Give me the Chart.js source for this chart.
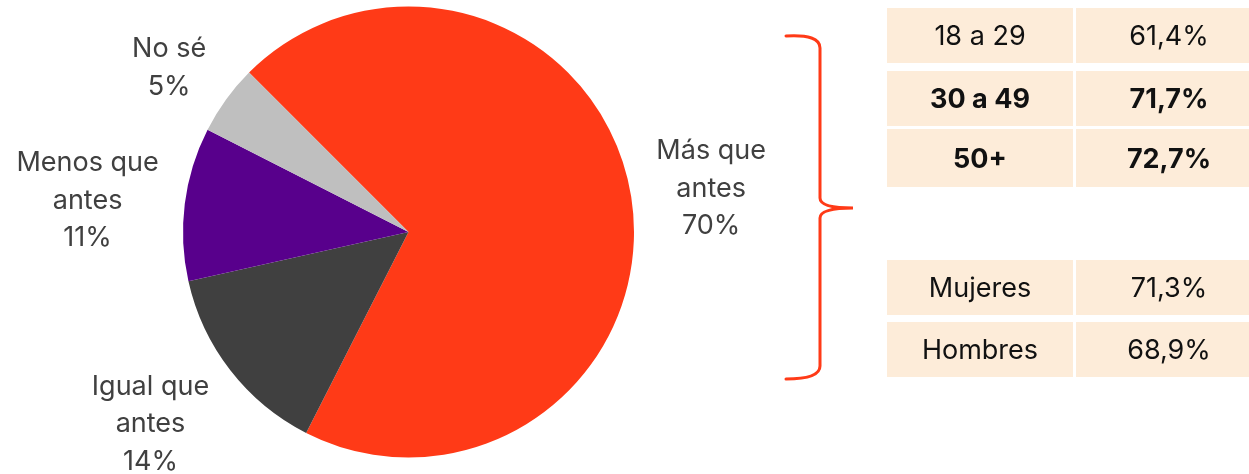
<!DOCTYPE html>
<html>
<head>
<meta charset="utf-8">
<script src="https://cdn.jsdelivr.net/npm/chart.js@4"></script>
<style>
  body { margin: 0; background: #fff; font-family: Inter, "Noto Sans", sans-serif; }
  #wrap { position: relative; width: 1249px; height: 474px; overflow: hidden; }
  #pieBox { position: absolute; left: 0; top: 0; width: 780px; height: 474px; }
  #brace { position: absolute; left: 0; top: 0; }
  .tbl { position: absolute; left: 884px; width: 381px; table-layout: fixed;
         border-collapse: separate; border-spacing: 3px; }
  .tbl td { background: #fdecd9; width: 186px; height: 55px; padding: 0; text-align: center;
            font-size: 27px; color: #111; }
  #ageTable { top: 5px; }
  #ageTable tr:first-child td { border-bottom: 5px solid #fff; }
  #ageTable tr:nth-child(n+2) td { font-weight: 700; }
  #ageTable tr:nth-child(3) td { height: 58px; }
  #genderTable { top: 257px; }
  #genderTable tr:first-child td { border-bottom: 4px solid #fff; }
</style>
</head>
<body>
<div id="wrap">
  <div id="pieBox"><canvas id="myChart"></canvas></div>
  <svg id="brace" width="1249" height="474">
    <path d="M786,36 Q820,34 820,48 L820,198 Q820,208 853,208 Q820,208 820,218 L820,366 Q820,379 786,379"
          fill="none" stroke="#ff3a17" stroke-width="3" stroke-linecap="round"/>
  </svg>
  <table class="tbl" id="ageTable"></table>
  <table class="tbl" id="genderTable"></table>
</div>
<script>
const labels = ['Más que antes', 'Igual que antes', 'Menos que antes', 'No sé'];
const values = [70, 14, 11, 5];
const colors = ['#ff3a17', '#404040', '#58008c', '#bfbfbf'];

const ageGroups = ['18 a 29', '30 a 49', '50+'];
const ageValues = ['61,4%', '71,7%', '72,7%'];
const genderGroups = ['Mujeres', 'Hombres'];
const genderValues = ['71,3%', '68,9%'];

const fillTable = (id, names, vals) => {
    const table = document.getElementById(id);
    names.forEach((name, i) => {
        const row = table.insertRow();
        row.insertCell().textContent = name;
        row.insertCell().textContent = vals[i];
    });
};
fillTable('ageTable', ageGroups, ageValues);
fillTable('genderTable', genderGroups, genderValues);

// labels outside the slices, along each slice's middle angle
const outsideLabels = {
    id: 'outsideLabels',
    afterDatasetsDraw(chart, args, opts) {
        const ctx = chart.ctx;
        const meta = chart.getDatasetMeta(0);
        ctx.save();
        ctx.font = opts.font;
        ctx.fillStyle = opts.color;
        ctx.textAlign = 'center';
        ctx.textBaseline = 'middle';
        meta.data.forEach((arc, i) => {
            const mid = (arc.startAngle + arc.endAngle) / 2;
            const d = arc.outerRadius * opts.distance[i];
            const x = arc.x + Math.cos(mid) * d + opts.nudge[i][0];
            const y = arc.y + Math.sin(mid) * d + opts.nudge[i][1];
            const words = labels[i].split(' ');
            const lines = [];
            if (words.length > 2) {
                lines.push(words.slice(0, 2).join(' '), words.slice(2).join(' '));
            } else {
                lines.push(labels[i]);
            }
            lines.push(values[i] + '%');
            const lh = opts.lineHeight;
            const y0 = y - (lines.length - 1) * lh / 2;
            lines.forEach((t, k) => ctx.fillText(t, x, y0 + k * lh));
        });
        ctx.restore();
    }
};

const ctx = document.getElementById('myChart');
new Chart(ctx, {
    type: 'pie',
    data: {
        labels: labels,
        datasets: [{
            data: values,
            backgroundColor: colors,
            borderWidth: 0
        }]
    },
    options: {
        responsive: true,
        maintainAspectRatio: false,
        animation: false,
        rotation: -45,
        layout: { padding: { left: 183, right: 146, top: 6, bottom: 16 } },
        plugins: {
            legend: { display: false },
            tooltip: { enabled: false },
            outsideLabels: {
                font: '27px Inter, "Noto Sans", sans-serif',
                color: '#404040',
                lineHeight: 37.5,
                distance: [1.35, 1.42, 1.43, 1.29],
                nudge: [[2, 4], [-5, -4], [-1, 9], [-4, 7]]
            }
        }
    },
    plugins: [outsideLabels]
});
</script>
</body>
</html>
